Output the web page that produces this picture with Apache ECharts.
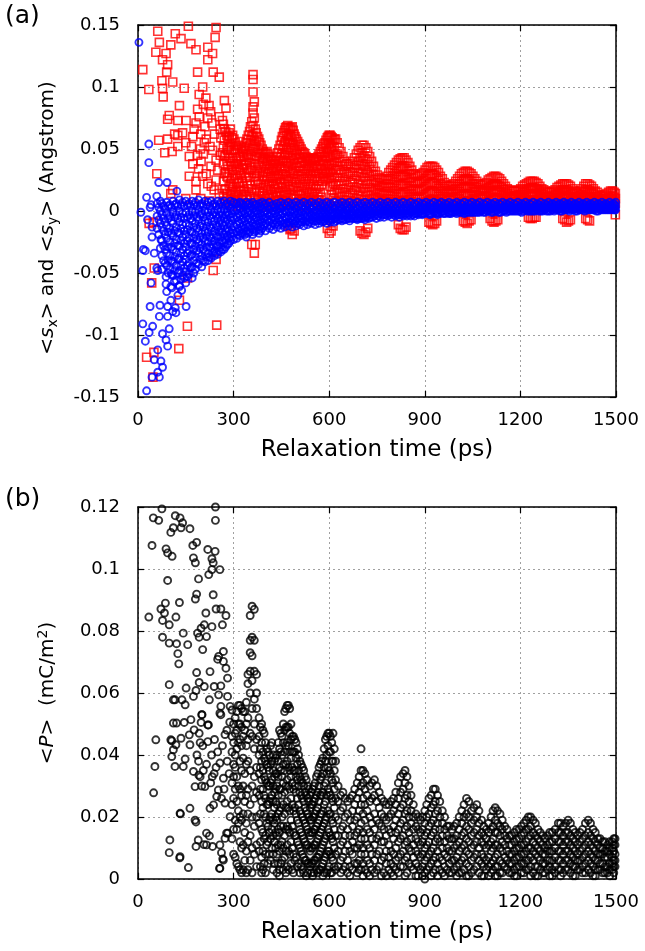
<!DOCTYPE html>
<html><head><meta charset="utf-8">
<script src="https://cdn.jsdelivr.net/npm/echarts@6/dist/echarts.min.js"></script>
<style>html,body{margin:0;padding:0;background:#fff}#c{width:645px;height:951px}</style>
</head><body><div id="c"></div>
<script>
// ---------- tick labels ----------
const xTicks = [0, 300, 600, 900, 1200, 1500];
const yTicksA = [-0.15, -0.1, -0.05, 0, 0.05, 0.1, 0.15];
const yTicksB = [0, 0.02, 0.04, 0.06, 0.08, 0.1, 0.12];

// ---------- panel (a): <s_x> red squares ----------
const redEarly = [[15,.114],[34,.098],[56,.128],[62,.145],[67,.136],[77,.122],[75,.105],[77,.099],[79,.092],[88,.127],[90,.112],[93,.118],[103,.134],[109,.104],[117,.143],[135,.139],[130,.085],[145,.099],[158,.149],[166,.135],[182,.130],[187,.112],[192,.094],[203,.100],[213,.091],[219,.132],[219,.122],[234,.127],[236,.112],[242,.140],[245,.148],[255,.108],[223,.085],[187,.082],[98,.077],[93,.074],[192,.076],[219,.075],[255,.076],[151,.073],[125,.073],[182,.071],[232,.071],[265,.073],[271,.089],[276,.083],[140,.063],[125,.061],[93,.058],[260,.059],[287,.060],[208,.055],[65,.057],[125,.052],[107,.048],[234,.049],[265,.047],[187,.045],[161,.044],[59,.030],[172,.038],[198,.040],[229,.036],[161,.028],[203,.028],[182,.024],[219,.022],[109,.017],[103,.014],[182,.017],[239,.017],[255,.014],[176,.066],[197,.062],[214,.058],[226,.052],[205,.046],[245,.041],[250,.033],[214,.030],[190,.034],[168,.052],[150,.055],[240,.062],[258,.066],[228,.080],[205,.086],[210,.068],[196,.050],[245,.025],[230,.020],[258,.045],[172,.060],[115,.062],[84,.047],[197,.010],[224,.008],[150,.010],
[35,-.010],[48,-.009],[51,-.046],[43,-.058],[245,-.039],[236,-.048],[155,-.054],[130,-.072],[155,-.093],[247,-.092],[128,-.111],[27,-.118],[50,-.114],[47,-.134]];
const redMid = [
[268,.070,.052,.038,.024,.012],[275,.064,.045,.031,.018,.006],[282,.058,.049,.036,.027,.010],[290,.066,.054,.040,.022,.014],[297,.061,.043,.033,.019,.004],
[305,.055,.047,.029,.015,.008],[312,.050,.038,.026,.012],[320,.056,.044,.031,.020,.006],[327,.048,.035,.024,.011],[335,.052,.041,.030,.016,.005],
[342,.058,.046,.034,.022,.009],[350,.064,.053,.039,.027,.013],[357,.072,.060,.048,.035,.018,-.027],[361,.110,.106,.096,.084,.079,.069,.061,.050],
[365,.088,.075,.057,.042,.030,.015,-.034],[368,.066,.052,.038,.024,.010,-.027],[375,.060,.047,.033,.021,.007],[382,.055,.043,.030,.016],
[390,.050,.040,.028,.014,.004],[397,.046,.036,.025,.012],[405,.048,.038,.027,.017,.006],[412,.044,.034,.022,.010],[420,.041,.032,.024,.013,.003],
[428,.038,.029,.018,.008],[435,.044,.035,.026,.015,.005],[442,.050,.040,.030,.019,.009],[450,.057,.046,.034,.023,.012],[457,.063,.052,.041,.029,.016,.004],
[463,.067,.056,.045,.032,.020,.008],[470,.069,.058,.047,.036,.024,.011,-.012],[477,.066,.055,.043,.031,.017,-.015],[484,.068,.057,.045,.033,.021,.007,-.019],
[490,.062,.050,.038,.026,.013,-.016],[497,.058,.046,.035,.023,.010],[505,.054,.043,.032,.020,.008],[512,.050,.039,.028,.016,.004],[520,.047,.036,.026,.014],
[527,.044,.034,.024,.012,.003],[535,.042,.033,.022,.011],[542,.040,.030,.020,.009],[550,.043,.032,.021,.010,.002],[557,.041,.031,.018,.007],
[565,.044,.034,.024,.013],[572,.048,.037,.026,.015,.005],[580,.052,.041,.030,.024,.004],[587,.055,.044,.033,.025,.003],[594,.059,.048,.036,.026,.006,-.014],
[600,.061,.050,.038,.027,-.018],[606,.060,.049,.037,.025,.013,-.016],[612,.057,.046,.034,.022,.010,-.012],[620,.058,.045,.033,.021,.008]];
const redMid2 = [
[271,.066,.057,.044,.030,.017,.008],[279,.061,.050,.040,.028,.014],[286,.063,.052,.043,.031,.020,.006],[294,.059,.049,.036,.026,.016,.009],[301,.058,.050,.038,.024,.011],
[309,.052,.042,.034,.022,.013],[316,.053,.043,.033,.023,.016,.004],[324,.051,.040,.029,.016,.009],[331,.050,.044,.037,.020,.013],[339,.055,.049,.038,.027,.012],
[346,.061,.050,.043,.031,.018,.006],[353,.068,.057,.045,.033,.021,.010],[371,.063,.056,.044,.028,.017,.005],[379,.058,.050,.038,.025,.012],[386,.053,.046,.035,.022,.009],
[393,.048,.043,.031,.019,.008],[401,.047,.042,.032,.021,.010],[408,.046,.040,.030,.020,.012,.003],[416,.043,.037,.028,.017,.007],[424,.040,.035,.027,.020,.011],
[431,.041,.033,.022,.012,.004],[438,.047,.038,.028,.021,.012],[446,.053,.043,.036,.026,.015,.006],[453,.060,.050,.040,.030,.019,.008],[460,.065,.055,.047,.036,.025,.013],
[466,.068,.061,.050,.039,.028,.015,.005],[473,.067,.060,.051,.040,.028,.020,.006],[480,.067,.060,.049,.038,.026,.013,-.014],[487,.065,.054,.041,.030,.018,.010],
[493,.060,.053,.042,.030,.019,.006],[501,.056,.049,.039,.028,.016,.004],[508,.052,.046,.036,.025,.013],[516,.048,.043,.032,.021,.010],[523,.046,.040,.030,.019,.008],
[531,.043,.038,.028,.017,.007],[538,.041,.036,.025,.015,.005],[546,.042,.035,.026,.015,.005],[553,.042,.036,.026,.014,.004],[561,.043,.036,.028,.018,.009],
[568,.046,.040,.030,.020,.009],[576,.050,.044,.034,.021,.011],[583,.054,.047,.038,.028,.006],[590,.057,.051,.040,.030,.007],[597,.060,.054,.043,.031,.005],
[603,.061,.054,.044,.031,.020],[609,.059,.052,.041,.029,.017],[616,.058,.051,.039,.027,.015,.004]];
const redLate = [
[625,.055,.046,.036,.027,.017,.007],[637,.048,.040,.031,.022,.012,.004],[649,.040,.032,.024,.015,.006],[661,.036,.028,.019,.011,.003],[673,.040,.031,.023,.014,.006],
[685,.046,.037,.028,.019,.010],[697,.051,.043,.034,.025,.016,.007,-.016],[709,.053,.044,.036,.027,.018,.009,-.019],[721,.048,.040,.031,.022,.013,.005,-.014],
[733,.040,.032,.024,.016,.008],[745,.032,.025,.018,.011,.004],[757,.027,.021,.015,.009,.003],[769,.025,.019,.013,.007],[781,.028,.022,.016,.010,.004],
[793,.033,.026,.019,.012,.005],[805,.037,.030,.023,.016,.009,.003],[817,.041,.034,.027,.020,.013,.006,-.011],[829,.043,.036,.029,.022,.015,.008,-.015],
[841,.041,.034,.027,.020,.013,.006,-.013],[853,.036,.030,.023,.016,.009],[865,.030,.024,.018,.012,.005],[877,.028,.022,.016,.010,.004],[889,.030,.024,.017,.011,.004],
[901,.033,.026,.020,.013,.007],[913,.036,.029,.022,.015,.008,-.009],[925,.036,.030,.023,.016,.009,.003,-.011],[937,.033,.027,.020,.014,.007,-.008],
[949,.028,.022,.016,.010,.004],[961,.023,.018,.012,.006],[973,.020,.015,.009,.004],[985,.021,.016,.010,.005],[997,.024,.018,.012,.006],
[1009,.028,.022,.016,.010,.004],[1021,.031,.025,.019,.013,.007,-.008],[1033,.032,.026,.020,.014,.008,.002,-.010],[1045,.030,.024,.018,.012,.006,-.007],
[1057,.026,.020,.015,.009,.004],[1069,.022,.017,.012,.006],[1081,.021,.016,.011,.005],[1093,.023,.018,.012,.007],[1105,.026,.020,.015,.009,.004,-.006],
[1117,.028,.022,.016,.011,.005,-.009],[1129,.027,.021,.016,.010,.004,-.007],[1141,.024,.019,.013,.008],[1153,.020,.015,.010,.005],[1165,.017,.012,.007],
[1177,.016,.011,.006],[1189,.016,.012,.007,.003],[1201,.018,.013,.008,.004],[1213,.021,.016,.011,.006],[1225,.023,.018,.013,.008,.003,-.005],
[1237,.024,.019,.014,.009,.004,-.006],[1249,.023,.018,.013,.008,-.005],[1261,.020,.015,.010,.005],[1273,.017,.013,.008,.004],[1285,.015,.011,.007],
[1297,.015,.011,.007,.003],[1309,.017,.013,.008,.004],[1321,.020,.015,.010,.006],[1333,.022,.017,.012,.007,-.006],[1345,.022,.017,.013,.008,.003,-.009],
[1357,.020,.015,.011,.006,-.007],[1369,.016,.012,.008,.004],[1381,.014,.010,.006],[1393,.018,.013,.009,.005],[1405,.022,.017,.012,.007,-.006],
[1417,.021,.016,.011,.006,-.008],[1429,.018,.014,.009,.005],[1441,.015,.011,.007],[1453,.012,.009,.005],[1465,.013,.010,.006],
[1477,.015,.011,.007,.003],[1489,.016,.012,.008,.004],[1498,.014,.010,.006,-.003]];
const redLate2 = [
[631,.051,.043,.033,.024,.014,.004],[643,.044,.036,.027,.018,.009],[655,.038,.030,.021,.013,.004],[667,.038,.031,.023,.015,.007],[679,.043,.035,.026,.017,.008],
[691,.049,.040,.031,.022,.013,.004],[703,.053,.047,.038,.030,.021,.012,-.018],[715,.051,.042,.033,.024,.015,.006,-.017],[727,.044,.036,.028,.019,.010,.003],
[739,.036,.029,.021,.013,.006],[751,.029,.023,.017,.010,.004],[763,.026,.020,.014,.008,.003],[775,.026,.020,.014,.008],[787,.031,.025,.019,.013,.007],
[799,.035,.028,.021,.014,.007],[811,.039,.032,.025,.018,.011,.004],[823,.042,.035,.028,.021,.014,.007,-.014],[835,.043,.036,.029,.022,.015,.008,-.015],
[847,.039,.032,.025,.018,.011,.004],[859,.033,.027,.020,.014,.007],[871,.029,.023,.017,.011,.005],[883,.029,.023,.016,.010,.004],[895,.031,.025,.018,.012,.005],
[907,.035,.028,.021,.014,.007],[919,.036,.030,.023,.016,.009,.003,-.010],[931,.035,.029,.022,.015,.008,-.010],[943,.031,.025,.018,.012,.006],
[955,.026,.020,.014,.008,.003],[967,.021,.016,.011,.005],[979,.020,.015,.010,.005],[991,.022,.017,.011,.005],[1003,.026,.020,.014,.008,.003],
[1015,.030,.024,.018,.012,.006],[1027,.032,.026,.020,.014,.008,.003,-.009],[1039,.031,.025,.019,.013,.007,-.008],[1051,.028,.022,.016,.010,.005],
[1063,.024,.019,.013,.008,.003],[1075,.021,.016,.011,.006],[1087,.022,.017,.012,.006],[1099,.025,.019,.014,.008,.003],[1111,.027,.021,.016,.010,.004,-.008],
[1123,.028,.022,.017,.011,.005,-.008],[1135,.026,.020,.015,.009,.004],[1147,.022,.017,.012,.006],[1159,.018,.014,.009,.004],[1171,.016,.012,.007,.003],
[1183,.016,.012,.008,.004],[1195,.017,.013,.009,.005],[1207,.020,.015,.010,.005],[1219,.022,.017,.012,.007,.003],[1231,.024,.019,.014,.009,.004,-.006],
[1243,.024,.019,.014,.009,.004,-.005],[1255,.022,.017,.012,.007],[1267,.018,.014,.009,.005],[1279,.016,.012,.008,.004],[1291,.015,.011,.007,.003],
[1303,.016,.012,.008,.004],[1315,.019,.014,.010,.005],[1327,.021,.016,.011,.006],[1339,.022,.017,.012,.007,.003,-.007],[1351,.021,.016,.012,.007,-.008],
[1363,.018,.014,.010,.005],[1375,.015,.011,.007,.003],[1387,.016,.012,.008,.004],[1399,.020,.015,.011,.006],[1411,.022,.017,.012,.007,.003,-.007],
[1423,.020,.015,.010,.005],[1435,.016,.012,.008,.004],[1447,.013,.010,.006],[1459,.012,.009,.005],[1471,.014,.010,.006,.003],[1483,.016,.012,.008,.004],[1494,.015,.011,.007,.003]];

// ---------- panel (a): <s_y> blue circles ----------
const blueEarly = [[3,.136],[34,.054],[34,.039],[65,.023],[91,.023],[122,.016],[27,.011],[59,.012],[41,.005],[9,-.001],[30,-.007],[44,-.013],[44,-.021],[72,-.023],[23,-.032],[51,-.034],[15,-.048],[41,-.058],[62,-.048],[88,-.053],[103,-.061],[90,-.065],[114,-.057],[130,-.061],[125,-.068],[103,-.072],[38,-.077],[69,-.076],[93,-.077],[117,-.078],[151,-.077],[109,-.081],[67,-.085],[93,-.085],[119,-.082],[15,-.091],[46,-.093],[35,-.098],[77,-.099],[98,-.095],[23,-.105],[88,-.104],[93,-.109],[62,-.112],[51,-.120],[72,-.121],[77,-.126],[62,-.130],[44,-.134],[67,-.134],[27,-.145],[59,-.046],[75,-.047],[88,-.059],[106,-.062],[38,.003],[17,-.031],[137,-.064]];
const blueWedge = [
[60,.006,-.004,-.014],[70,.008,.000,-.010,-.030],[80,.004,-.006,-.016,-.028,-.040],[90,.007,-.002,-.012,-.022,-.034,-.044],[100,.005,-.004,-.014,-.025,-.036,-.047],
[110,.008,-.001,-.010,-.020,-.031,-.041,-.052],[120,.006,-.003,-.013,-.023,-.033,-.044,-.056],[130,.009,.000,-.009,-.018,-.028,-.038,-.048,-.060],
[140,.007,-.002,-.011,-.021,-.031,-.041,-.052],[150,.008,-.001,-.010,-.019,-.029,-.039,-.049,-.058],[160,.006,-.003,-.012,-.022,-.032,-.042,-.051],
[170,.008,.000,-.008,-.017,-.026,-.035,-.045,-.054],[180,.007,-.001,-.010,-.019,-.028,-.037,-.047],[190,.009,.001,-.007,-.016,-.025,-.034,-.043],
[200,.006,-.002,-.010,-.018,-.027,-.036,-.045],[210,.008,.000,-.008,-.016,-.024,-.033,-.041],[220,.007,-.001,-.009,-.017,-.025,-.034,-.040],
[230,.008,.001,-.006,-.014,-.022,-.030,-.038],[240,.006,-.001,-.008,-.016,-.024,-.032,-.036],[250,.008,.001,-.006,-.013,-.021,-.028,-.035],
[260,.007,.000,-.007,-.014,-.021,-.029,-.033],[270,.008,.001,-.006,-.012,-.019,-.026,-.031],[280,.006,-.001,-.007,-.014,-.020,-.027],
[290,.008,.002,-.005,-.011,-.018,-.024],[300,.007,.001,-.005,-.012,-.018,-.023]];
const blueWedge2 = [
[65,.003,-.007,-.019],[75,.006,-.003,-.013,-.024,-.036],[85,.002,-.009,-.019,-.031,-.042],[95,.004,-.006,-.017,-.029,-.040,-.050],[105,.003,-.008,-.018,-.029,-.040,-.051],
[115,.005,-.005,-.016,-.026,-.037,-.048],[125,.004,-.006,-.017,-.028,-.039,-.050],[135,.005,-.005,-.014,-.024,-.034,-.044,-.055],[145,.004,-.006,-.016,-.026,-.036,-.046,-.054],
[155,.005,-.005,-.015,-.024,-.034,-.044,-.053],[165,.004,-.006,-.016,-.026,-.036,-.046],[175,.005,-.004,-.013,-.022,-.031,-.040,-.050],[185,.004,-.005,-.014,-.023,-.032,-.042],
[195,.005,-.003,-.012,-.021,-.030,-.039],[205,.004,-.005,-.013,-.022,-.031,-.040],[215,.005,-.004,-.012,-.020,-.029,-.037],[225,.004,-.004,-.013,-.021,-.029,-.037],
[235,.005,-.003,-.011,-.019,-.027,-.034],[245,.004,-.004,-.012,-.020,-.028,-.034],[255,.005,-.003,-.010,-.017,-.025,-.032],[265,.004,-.003,-.010,-.017,-.024,-.031],
[275,.005,-.003,-.009,-.016,-.023,-.029],[285,.004,-.003,-.010,-.016,-.022,-.026],[295,.005,-.002,-.008,-.015,-.021]];
const blueBand = [
[310,.006,.001,-.005,-.011,-.017,-.022],[320,.007,.002,-.004,-.010,-.016,-.020],[330,.005,.000,-.006,-.012,-.018],[340,.007,.001,-.005,-.011,-.016,-.021],
[350,.006,.000,-.006,-.012,-.017],[360,.007,.002,-.004,-.010,-.015,-.019],[370,.005,.000,-.005,-.011,-.016],[380,.006,.001,-.005,-.010,-.015,-.018],
[390,.007,.002,-.004,-.009,-.014],[400,.006,.000,-.005,-.010,-.016],[412,.007,.001,-.004,-.009,-.014],[424,.005,.000,-.005,-.010,-.015],
[436,.006,.001,-.004,-.009,-.013],[448,.007,.002,-.003,-.008,-.014],[460,.006,.000,-.005,-.010,-.013],[472,.007,.001,-.004,-.009,-.012],
[484,.006,.001,-.004,-.008,-.013],[496,.007,.002,-.003,-.008,-.012],[508,.006,.000,-.004,-.009,-.011],[520,.007,.001,-.003,-.008,-.012],
[532,.006,.001,-.004,-.008,-.011],[544,.007,.002,-.003,-.007,-.010],[556,.006,.000,-.004,-.008,-.011],[568,.007,.001,-.003,-.007,-.010],
[580,.006,.001,-.003,-.007,-.009],[592,.007,.002,-.002,-.006,-.010],[604,.006,.001,-.003,-.007,-.009],[616,.007,.002,-.002,-.006,-.009],
[628,.006,.001,-.003,-.007],[640,.007,.002,-.002,-.006,-.008],[652,.006,.001,-.003,-.007],[664,.007,.002,-.002,-.006,-.008],[676,.006,.001,-.003,-.006],
[688,.007,.002,-.002,-.006,-.007],[700,.006,.001,-.003,-.006],[712,.007,.002,-.002,-.005,-.007],[724,.006,.001,-.003,-.006],[736,.007,.002,-.002,-.005],
[748,.006,.001,-.003,-.006],[760,.007,.002,-.002,-.005],[772,.006,.001,-.003,-.005],[784,.007,.002,-.002,-.004],[796,.006,.001,-.002,-.005],
[808,.007,.002,-.002,-.004],[820,.006,.001,-.003,-.005],[832,.007,.002,-.002,-.004],[844,.006,.002,-.002,-.004],[856,.007,.002,-.001,-.004],
[868,.006,.001,-.002,-.004],[880,.007,.003,-.001,-.003],[892,.006,.002,-.002,-.003],[904,.007,.003,-.001],[916,.006,.002,-.002,-.003],
[928,.007,.003,-.001],[940,.006,.002,-.001,-.003],[952,.007,.003,-.001],[964,.006,.002,-.002],[976,.007,.003,-.001,-.002],[988,.006,.002,-.001],
[1000,.007,.003,.000,-.002],[1012,.006,.002,-.001],[1024,.007,.003,.000,-.002],[1036,.006,.002,-.001],[1048,.007,.003,.000,-.001],[1060,.006,.002,-.001],
[1072,.007,.003,.000,-.001],[1084,.006,.002,-.001],[1096,.007,.003,.000],[1108,.006,.002,-.001],[1120,.007,.004,.000],[1132,.006,.002,-.001],
[1144,.007,.003,.000],[1156,.006,.003,-.001],[1168,.007,.004,.000],[1180,.006,.002,.000],[1192,.007,.003,.000],[1204,.006,.003,-.001],
[1216,.007,.004,.001],[1228,.006,.002,.000],[1240,.007,.003,.000],[1252,.006,.004,.001],[1264,.007,.003,.000],[1276,.006,.002,.001],
[1288,.007,.004,.000],[1300,.006,.003,.001],[1312,.007,.004,.001],[1324,.006,.002,.000],[1336,.007,.004,.001],[1348,.006,.003,.001],
[1360,.007,.004,.001],[1372,.006,.002,.000],[1384,.007,.004,.001],[1396,.006,.003,.001],[1408,.007,.004,.001],[1420,.006,.003,.001],
[1432,.007,.004,.001],[1444,.006,.003,.000],[1456,.007,.004,.001],[1468,.006,.003,.001],[1480,.007,.004,.001],[1492,.006,.003,.001],[1499,.007,.004,.001]];
const blueBand2 = [
[315,.004,-.002,-.008,-.014,-.019],[325,.006,-.001,-.007,-.013,-.018],[335,.004,-.002,-.008,-.014,-.019],[345,.005,-.001,-.007,-.013,-.018],[355,.004,-.002,-.008,-.014],
[365,.005,-.001,-.007,-.012,-.017],[375,.003,-.002,-.008,-.013],[385,.004,-.002,-.007,-.012,-.016],[395,.005,-.001,-.006,-.012],[406,.004,-.002,-.007,-.012],
[418,.004,-.002,-.007,-.012],[430,.003,-.002,-.007,-.011],[442,.004,-.001,-.006,-.011],[454,.004,-.002,-.007,-.011],[466,.004,-.001,-.006,-.010],
[478,.004,-.001,-.006,-.010],[490,.004,-.001,-.005,-.010],[502,.004,-.002,-.006,-.010],[514,.004,-.001,-.006,-.009],[526,.004,-.001,-.005,-.009],
[538,.004,-.001,-.005,-.009],[550,.004,-.001,-.005,-.008],[562,.004,-.001,-.005,-.008],[574,.004,-.001,-.005,-.008],[586,.004,-.001,-.005,-.008],
[598,.004,.000,-.004,-.008],[610,.004,-.001,-.004,-.007],[622,.004,-.001,-.005,-.008],[634,.004,.000,-.004,-.007],[646,.004,-.001,-.004,-.007],
[658,.004,.000,-.004,-.006],[670,.004,-.001,-.004,-.006],[682,.004,.000,-.004,-.006],[694,.004,-.001,-.004,-.006],[706,.004,.000,-.004,-.006],
[718,.004,.000,-.004,-.005],[730,.004,.000,-.003,-.005],[742,.004,.000,-.004],[754,.004,.000,-.004],[766,.004,.000,-.003],[778,.004,.000,-.003],
[790,.004,.000,-.003],[802,.004,.000,-.003],[814,.004,.000,-.003],[826,.004,.000,-.003],[838,.004,.000,-.003],[850,.004,.000,-.003],[862,.004,.000,-.003],
[874,.005,.001,-.002],[886,.004,.000,-.002],[898,.005,.001,-.002],[910,.004,.000,-.002],[922,.005,.001,-.002],[934,.004,.000,-.002],[946,.005,.001,-.002],
[958,.004,.000,-.002],[970,.005,.001,-.001],[982,.004,.000,-.002],[994,.005,.001,-.001],[1006,.004,.001,-.001],[1018,.005,.001,-.001],[1030,.004,.001,-.001],
[1042,.005,.001,-.001],[1054,.004,.001,-.001],[1066,.005,.001,-.001],[1078,.004,.001,.000],[1090,.005,.001,-.001],[1102,.004,.001,.000],[1114,.005,.002,-.001],
[1126,.004,.001,.000],[1138,.005,.002,-.001],[1150,.004,.001,.000],[1162,.005,.002,.000],[1174,.004,.001,.000],[1186,.005,.002,.000],[1198,.004,.001,.000],
[1210,.005,.002,.000],[1222,.004,.001,.000],[1234,.005,.002,.000],[1246,.004,.002,.000],[1258,.005,.002,.000],[1270,.004,.001,.000],[1282,.005,.002,.000],
[1294,.005,.002,.000],[1306,.005,.002,.000],[1318,.005,.002,.001],[1330,.005,.002,.000],[1342,.005,.002,.001],[1354,.005,.002,.000],[1366,.005,.002,.001],
[1378,.005,.002,.000],[1390,.005,.002,.001],[1402,.005,.002,.000],[1414,.005,.002,.001],[1426,.005,.002,.001],[1438,.005,.002,.000],[1450,.005,.002,.001],
[1462,.005,.002,.001],[1474,.005,.002,.001],[1486,.005,.002,.001],[1496,.005,.002,.001]];

// ---------- panel (b): <P> black circles ----------
const blackEarly = [[75,.1194],[243,.120],[48,.1165],[65,.1157],[117,.1172],[132,.1165],[140,.1149],[111,.1133],[103,.1118],[135,.1133],[163,.113],[243,.1157],[44,.1076],[88,.1065],[93,.1052],[107,.1041],[172,.1076],[184,.1086],[219,.1063],[242,.1057],[174,.1036],[232,.1033],[180,.1020],[236,.1020],[232,.0998],[257,.0998],[222,.0982],[190,.0968],[93,.0963],[236,.0917],[184,.0919],[180,.0903],[130,.0892],[86,.0890],[72,.0871],[83,.0858],[34,.0845],[119,.0845],[245,.0871],[260,.0871],[276,.0850],[213,.0858],[77,.0834],[98,.0820],[208,.0820],[198,.0809],[187,.0793],[232,.0814],[265,.0820],[142,.0793],[77,.0780],[98,.0761],[192,.0780],[215,.0782],[253,.0718],[268,.0734],[156,.0756],[121,.0759],[268,.0702],[203,.0740],[125,.0727],[128,.0694],[276,.0680],[250,.0709],[98,.0627],[184,.0666],[226,.0669],[281,.0648],[151,.0616],[192,.0634],[260,.0623],[111,.0578],[138,.0578],[148,.0562],[182,.0608],[208,.0621],[239,.0621],[253,.0594],[224,.0578],[260,.0557],[281,.0589],[174,.0589],[121,.0503],[145,.0505],[166,.0514],[176,.0481],[198,.0505],[219,.0497],[260,.0530],[289,.0557],[201,.0530],[56,.0449],[103,.0449],[135,.0454],[161,.0465],[192,.0470],[119,.0433],[203,.0430],[219,.0443],
[53,.0363],[49,.0278],[106,.0446],[111,.0417],[106,.0395],[116,.0363],[142,.0363],[148,.0387],[163,.0433],[174,.0347],[195,.033],[111,.0503],[116,.0578],[200,.053],[257,.0535],[221,.0497],[132,.0212],[163,.0228],[179,.019],[100,.0126],[98,.0085],[132,.0072],[158,.0037],[189,.0126],[215,.011],[257,.011],[268,.0061],[257,.0035],[215,.0148],[278,.0148],[289,.0201],[179,.0298],[210,.0298],[226,.0228],[252,.0287],[247,.0266],[268,.0325],[257,.0374],[231,.040],[273,.0245],[182,.0105],[207,.0111],[234,.0105],[224,.0139],[262,.0085],[266,.0065],[256,.0034],[273,.0131],[282,.0148],[182,.0184],[200,.030],[191,.0335],[237,.0239],[233,.033],[239,.034],[262,.026],[270,.029],[273,.0466],[279,.048],[288,.0506],[133,.021],[131,.0068],[185,.040],[195,.044],[240,.045],[250,.041],[265,.043],[280,.038],[286,.034],[245,.036],[228,.031],[190,.038],[205,.035],[215,.037]];
const blackMid = [
[295,.0545,.046,.041,.031,.024,.013],[305,.052,.047,.040,.036,.029,.019,.007],[315,.056,.050,.044,.030,.022,.018,.004],[325,.055,.049,.043,.035,.027,.019,.010,.002],
[335,.054,.048,.034,.025,.015,.006],[345,.066,.063,.052,.045,.038,.029,.021,.012,.003],[352,.085,.077,.073,.067,.060,.047,.035,.024,.014,.006],
[358,.088,.078,.072,.064,.055,.046,.030,.020,.010,.002],[365,.087,.077,.067,.058,.050,.042,.033,.026,.017,.008],[372,.066,.060,.055,.045,.036,.028,.020,.011,.004],
[380,.052,.046,.040,.034,.027,.018,.009],[388,.050,.044,.038,.032,.025,.016,.007,.002],[396,.047,.039,.033,.027,.021,.013,.005],[404,.042,.037,.031,.024,.018,.011],
[412,.040,.035,.030,.025,.019,.015,.008],[420,.044,.038,.032,.027,.021,.016,.010],[428,.038,.033,.028,.023,.018,.012,.005],[436,.040,.034,.030,.024,.019,.014,.008,.002],
[444,.048,.042,.036,.029,.022,.015,.009,.003,.001],[452,.046,.040,.033,.027,.020,.012,.006],[460,.054,.048,.041,.035,.028,.021,.014,.007],
[468,.056,.049,.044,.038,.032,.025,.017,.011,.004],[476,.055,.047,.041,.035,.029,.022,.015,.008],[484,.046,.041,.036,.031,.024,.017,.010,.003],
[492,.045,.041,.035,.030,.023,.014,.006],[500,.042,.037,.032,.026,.019,.012,.004],[508,.038,.033,.028,.022,.016,.010,.002],[516,.036,.031,.026,.020,.014,.008,.003],
[524,.033,.028,.023,.018,.012,.006],[532,.030,.026,.021,.016,.011,.005,.002],[540,.027,.023,.019,.014,.009,.004],[548,.029,.024,.020,.015,.010,.005,.001],
[556,.031,.026,.021,.016,.011,.006],[564,.034,.028,.023,.018,.013,.007,.002],[572,.037,.032,.027,.021,.015,.009,.003],[580,.039,.034,.028,.022,.017,.011,.005,.001],
[588,.045,.038,.031,.025,.019,.013,.007],[596,.047,.043,.036,.029,.022,.016,.009,.003],[604,.046,.041,.034,.027,.021,.014,.008,.002],[612,.047,.038,.031,.025,.018,.012,.006],
[620,.038,.032,.026,.020,.014,.008,.003]];
const blackMid2 = [
[300,.050,.044,.037,.033,.026,.016,.008],[310,.054,.048,.042,.033,.025,.016,.005],[320,.056,.050,.045,.038,.029,.020,.012,.003],[330,.054,.046,.039,.030,.021,.011,.003],
[340,.057,.050,.043,.037,.027,.018,.009,.002],[384,.049,.042,.036,.029,.021,.012,.004],[392,.048,.041,.035,.029,.023,.015,.009,.003],[400,.044,.038,.032,.026,.020,.014,.008,.002],
[408,.041,.036,.030,.024,.017,.012,.005],[416,.043,.037,.031,.026,.020,.013,.006],[424,.040,.035,.030,.025,.019,.014,.008,.003],[432,.039,.034,.029,.025,.020,.015,.010],
[440,.044,.038,.033,.027,.021,.016,.011,.005],[448,.047,.041,.035,.029,.023,.017,.011,.005],[456,.050,.044,.037,.031,.024,.017,.010,.003],[464,.055,.049,.043,.037,.030,.023,.016,.009,.002],
[472,.056,.049,.043,.036,.030,.023,.016,.009,.003],[480,.050,.045,.039,.033,.026,.019,.012,.005],[488,.046,.041,.035,.029,.022,.015,.008,.002],[496,.044,.039,.033,.028,.021,.014,.007],
[504,.040,.035,.030,.024,.018,.011,.005],[512,.037,.032,.027,.021,.015,.009,.004],[520,.035,.030,.025,.019,.013,.007,.002],[528,.032,.027,.022,.017,.011,.006,.001],
[536,.029,.025,.020,.015,.010,.005],[544,.028,.024,.019,.015,.010,.005,.002],[552,.030,.025,.020,.016,.011,.006,.002],[560,.033,.027,.022,.017,.012,.007,.003],
[568,.036,.030,.025,.019,.014,.008,.003],[576,.038,.033,.027,.021,.016,.010,.004],[584,.042,.036,.030,.024,.018,.012,.006,.002],[592,.046,.040,.034,.027,.020,.014,.008,.002],
[600,.047,.041,.035,.028,.021,.015,.009,.004],[608,.044,.038,.032,.026,.019,.013,.007,.002],[616,.042,.035,.029,.023,.016,.010,.004]];
const blackLate = [
[628,.030,.025,.019,.014,.009,.004],[643,.028,.023,.017,.012,.007,.003],[658,.025,.021,.016,.011,.006,.002],[673,.027,.022,.017,.012,.008,.003],
[688,.031,.026,.020,.015,.010,.005,.002],[700,.042,.035,.030,.024,.018,.013,.008,.003],[712,.034,.029,.024,.019,.013,.008,.003],[727,.030,.025,.020,.015,.010,.005,.001],
[742,.032,.027,.021,.016,.011,.006,.002],[757,.028,.023,.018,.014,.009,.004],[772,.025,.020,.016,.012,.007,.002],[787,.024,.020,.016,.011,.007,.003],
[802,.026,.022,.017,.013,.008,.004,.001],[817,.031,.026,.021,.016,.012,.007,.002],[832,.034,.029,.024,.019,.014,.009,.004],[844,.033,.027,.022,.017,.012,.007,.002],
[857,.027,.022,.018,.013,.009,.004],[872,.021,.017,.013,.009,.005,.001],[887,.019,.015,.011,.007,.003],[900,.022,.018,.014,.010,.006,.002,.000],
[913,.026,.021,.017,.012,.008,.004],[927,.029,.024,.019,.015,.010,.006,.002],[940,.027,.022,.018,.013,.009,.005,.001],[955,.022,.018,.014,.010,.006,.002],
[970,.017,.014,.010,.007,.003],[985,.016,.013,.009,.006,.002],[1000,.018,.014,.011,.007,.004,.001],[1016,.022,.018,.014,.010,.006,.002],
[1031,.026,.021,.017,.013,.009,.005,.001],[1046,.022,.018,.014,.010,.006,.002],[1063,.024,.020,.016,.012,.008,.004],[1078,.019,.015,.012,.008,.005,.001],
[1093,.016,.013,.010,.006,.003],[1108,.020,.016,.012,.009,.005,.002],[1121,.023,.019,.015,.011,.007,.004,.001],[1136,.021,.017,.014,.010,.006,.002],
[1151,.017,.014,.011,.007,.004],[1166,.014,.011,.008,.005,.002],[1181,.015,.012,.009,.006,.003,.001],[1196,.016,.013,.010,.007,.004],
[1211,.018,.015,.011,.008,.005,.002],[1225,.020,.016,.013,.010,.006,.003],[1240,.019,.015,.012,.009,.006,.002],[1255,.016,.013,.010,.007,.004,.001],
[1270,.014,.011,.008,.005,.002],[1285,.014,.011,.009,.006,.003],[1300,.015,.012,.009,.006,.003,.001],[1319,.018,.015,.012,.009,.006,.003],
[1334,.017,.014,.011,.008,.005,.002],[1350,.019,.015,.012,.009,.006,.003],[1365,.016,.013,.010,.007,.004,.001],[1380,.014,.011,.008,.006,.003],
[1395,.016,.013,.010,.007,.004,.002],[1413,.019,.015,.012,.009,.006,.003],[1428,.016,.013,.010,.007,.004,.001],[1443,.013,.011,.008,.006,.003],
[1458,.012,.010,.008,.005,.002],[1473,.011,.009,.007,.004,.002],[1488,.012,.010,.007,.005,.003],[1497,.013,.011,.008,.006,.004]];
const blackLate2 = [
[636,.027,.022,.016,.011,.006,.002],[650,.026,.020,.014,.009,.004],[665,.026,.019,.014,.009,.004,.001],[680,.029,.024,.019,.014,.010,.005],
[694,.033,.028,.022,.016,.011,.006,.003],[706,.035,.031,.026,.021,.015,.010,.005,.001],[719,.032,.027,.022,.016,.011,.006,.002],[734,.031,.026,.018,.013,.008,.003],
[749,.030,.025,.019,.013,.008,.003],[764,.026,.021,.017,.012,.006,.001],[779,.024,.019,.014,.009,.005,.001],[794,.025,.021,.015,.009,.005,.002],
[809,.028,.024,.019,.015,.010,.006,.003],[824,.033,.028,.023,.018,.013,.008,.004],[838,.035,.031,.026,.021,.016,.011,.006,.001],[850,.030,.025,.020,.015,.010,.005],
[864,.024,.020,.016,.011,.007,.003],[879,.020,.016,.012,.008,.004,.001],[893,.020,.016,.012,.008,.004,.001],[906,.024,.020,.015,.011,.007,.003],
[920,.027,.023,.018,.014,.009,.005,.001],[933,.029,.025,.021,.016,.012,.007,.003],[947,.025,.020,.016,.012,.007,.003],[962,.020,.016,.012,.008,.004,.001],
[977,.017,.013,.009,.005,.002],[992,.017,.013,.010,.006,.003],[1008,.020,.016,.012,.009,.005,.002],[1023,.024,.020,.015,.011,.007,.003],
[1038,.025,.020,.016,.012,.008,.004,.001],[1054,.023,.019,.015,.011,.007,.003],[1070,.022,.018,.014,.010,.006,.002],[1085,.017,.014,.011,.007,.004,.001],
[1100,.018,.015,.011,.007,.004,.001],[1114,.022,.017,.013,.010,.006,.003],[1128,.022,.018,.015,.011,.008,.004,.001],[1143,.019,.016,.012,.009,.005,.002],
[1158,.016,.013,.009,.006,.003],[1173,.014,.011,.008,.005,.002],[1188,.016,.013,.010,.007,.004,.001],[1203,.017,.014,.011,.008,.005,.002],
[1218,.019,.016,.012,.009,.006,.003],[1232,.020,.017,.014,.010,.007,.004,.001],[1247,.018,.014,.011,.008,.004,.001],[1262,.015,.012,.009,.006,.003],
[1277,.013,.010,.008,.005,.002],[1292,.015,.012,.009,.006,.004,.001],[1309,.016,.013,.010,.007,.004,.002],[1326,.018,.015,.012,.009,.006,.003,.001],
[1342,.018,.015,.012,.009,.006,.003],[1357,.018,.014,.011,.008,.005,.002],[1372,.015,.012,.009,.006,.004,.001],[1387,.015,.012,.009,.006,.003],
[1404,.018,.014,.011,.008,.005,.002],[1420,.018,.014,.011,.008,.005,.002],[1435,.015,.012,.009,.006,.003,.001],[1450,.013,.010,.008,.005,.003],
[1465,.012,.009,.007,.004,.002],[1480,.012,.010,.008,.005,.003,.001],[1493,.013,.011,.009,.006,.004,.002]];

// ---------- build ----------
function fromCols(cols){ const out=[]; cols.forEach(c=>{ for(let i=1;i<c.length;i++) out.push([c[0], c[i]]); }); return out; }
const redData = redEarly.concat(fromCols(redMid), fromCols(redMid2), fromCols(redLate), fromCols(redLate2));
const blueData = blueEarly.concat(fromCols(blueWedge), fromCols(blueWedge2), fromCols(blueBand), fromCols(blueBand2));
const blackData = blackEarly.concat(fromCols(blackMid), fromCols(blackMid2), fromCols(blackLate), fromCols(blackLate2));

const FONT = 'DejaVu Sans';
const fmtY = v => { const r = Math.round(v*100)/100; return r === 0 ? '0' : String(r); };
const fmtX = v => String(Math.round(v));
const GRID_LINE = {show:true, lineStyle:{color:'#a0a0a0', width:1, type:[2,3]}};

function xAx(gi, main){
  return {type:'value', gridIndex:gi, position: main?'bottom':'top', min:xTicks[0], max:xTicks[xTicks.length-1], interval:xTicks[1]-xTicks[0],
    axisLine:{show:true, onZero:false, lineStyle:{color:'#000', width:1.5}},
    axisTick:{show:true, inside:true, length:6, lineStyle:{color:'#000', width:1.2}},
    axisLabel:{show:main, margin:14, fontSize:18, fontFamily:FONT, color:'#000', formatter: fmtX},
    splitLine: main ? GRID_LINE : {show:false},
    name: main ? 'Relaxation time (ps)' : '', nameLocation:'middle', nameGap:42,
    nameTextStyle:{fontSize:23, fontFamily:FONT, color:'#000'}};
}
function yAx(gi, main, ticks){
  return {type:'value', gridIndex:gi, position: main?'left':'right', min:ticks[0], max:ticks[ticks.length-1], interval:ticks[1]-ticks[0],
    axisLine:{show:true, onZero:false, lineStyle:{color:'#000', width:1.5}},
    axisTick:{show:true, inside:true, length:6, lineStyle:{color:'#000', width:1.2}},
    axisLabel:{show:main, margin:18, fontSize:18, fontFamily:FONT, color:'#000', formatter: fmtY},
    splitLine: main ? GRID_LINE : {show:false}};
}
const tok = (size, extra) => Object.assign({fontSize:size, fontFamily:FONT, fill:'#000', lineHeight:24, verticalAlign:'middle'}, extra||{});

const chart = echarts.init(document.getElementById('c'), null, {renderer:'canvas'});
chart.setOption({
  backgroundColor:'#fff',
  animation:false,
  grid:[{left:138, right:29, top:25, height:372}, {left:138, right:29, top:507, height:372}],
  xAxis:[xAx(0,true), xAx(0,false), xAx(1,true), xAx(1,false)],
  yAxis:[yAx(0,true,yTicksA), yAx(0,false,yTicksA), yAx(1,true,yTicksB), yAx(1,false,yTicksB)],
  series:[
    {type:'scatter', name:'<s_x>', xAxisIndex:0, yAxisIndex:0, data:redData, symbol:'rect', symbolSize:8,
      itemStyle:{color:'rgba(0,0,0,0)', borderColor:'#ff0000', borderWidth:1.6}, silent:true, z:2},
    {type:'scatter', name:'<s_y>', xAxisIndex:0, yAxisIndex:0, data:blueData, symbol:'circle', symbolSize:7,
      itemStyle:{color:'rgba(0,0,0,0)', borderColor:'#0000ff', borderWidth:1.9}, silent:true, z:3},
    {type:'scatter', name:'<P>', xAxisIndex:2, yAxisIndex:2, data:blackData, symbol:'circle', symbolSize:7,
      itemStyle:{color:'rgba(0,0,0,0)', borderColor:'#000', borderWidth:1.9}, silent:true, z:2}
  ],
  graphic:[
    {type:'text', left:5, top:4, style:{text:'(a)', fontSize:25, fontFamily:FONT, fill:'#000'}},
    {type:'text', left:5, top:487, style:{text:'(b)', fontSize:25, fontFamily:FONT, fill:'#000'}},
    {type:'text', x:48, y:218, rotation:Math.PI/2,
      style:{text:'{n|<}{i|s}{sub|x}{n|> and <}{i|s}{sub|y}{n|> (Angstrom)}', align:'center', verticalAlign:'middle',
        fontSize:20, fontFamily:FONT, fill:'#000',
        rich:{n:tok(20), i:tok(20,{fontStyle:'italic'}), sub:tok(14,{lineHeight:14, padding:[10,0,0,0]})}}},
    {type:'text', x:48, y:693, rotation:Math.PI/2,
      style:{text:'{n|<}{i|P}{n|>  (mC/m}{sup|2}{n|)}', align:'center', verticalAlign:'middle',
        fontSize:20, fontFamily:FONT, fill:'#000',
        rich:{n:tok(20), i:tok(20,{fontStyle:'italic'}), sup:tok(14,{lineHeight:14, padding:[0,0,10,0]})}}}
  ]
});
</script></body></html>
